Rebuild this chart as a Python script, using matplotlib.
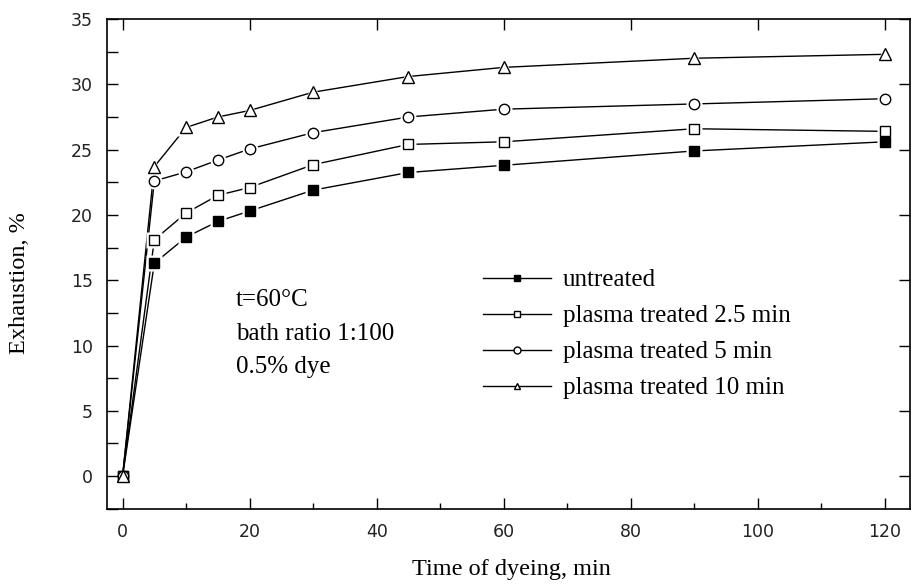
import numpy as np
import matplotlib.pyplot as plt
from matplotlib.lines import Line2D
from matplotlib.ticker import MultipleLocator

# time of dyeing, min
time = [0, 5, 10, 15, 20, 30, 45, 60, 90, 120]

# exhaustion, %
untreated = [0, 16.3, 18.3, 19.5, 20.3, 21.9, 23.25, 23.8, 24.9, 25.6]
treated_2_5 = [0, 18.1, 20.15, 21.5, 22.1, 23.85, 25.4, 25.6, 26.6, 26.4]
treated_5 = [0, 22.6, 23.3, 24.2, 25.05, 26.3, 27.5, 28.1, 28.5, 28.9]
treated_10 = [0, 23.7, 26.7, 27.5, 28.0, 29.4, 30.6, 31.3, 32.0, 32.3]

labels = ['untreated', 'plasma treated 2.5 min',
          'plasma treated 5 min', 'plasma treated 10 min']
series = [untreated, treated_2_5, treated_5, treated_10]
markers = ['s', 's', 'o', '^']
faces = ['black', 'white', 'white', 'white']
sizes = [7, 7, 7.5, 9]

serif = 'Liberation Serif'

fig = plt.figure(figsize=(9.12, 5.85), dpi=100)
ax = fig.add_axes([0.117, 0.1304, 0.881, 0.837])

for vals, m, fc, ms in zip(series, markers, faces, sizes):
    ax.plot(time, vals, color='black', lw=1.0, zorder=2)
    # white halo so the line stops short of each marker
    ax.plot(time[1:], vals[1:], ls='none', marker=m, ms=ms + 4, mfc='white',
            mec='none', zorder=3)
    ax.plot(time, vals, ls='none', marker=m, ms=ms, mfc=fc,
            mec='black', mew=1.0, zorder=4)

ax.set_xlim(-2.5, 124)
ax.set_ylim(-2.5, 35)

ax.xaxis.set_major_locator(MultipleLocator(20))
ax.xaxis.set_minor_locator(MultipleLocator(10))
ax.yaxis.set_major_locator(MultipleLocator(5))
ax.yaxis.set_minor_locator(MultipleLocator(2.5))
ax.tick_params(which='major', direction='in', length=8, width=1,
               top=True, right=True, labelsize=12.5, pad=10)
ax.tick_params(which='minor', direction='in', length=4, width=1,
               top=False, right=False)
ax.tick_params(axis='y', which='minor', length=8)
for lab in ax.get_xticklabels() + ax.get_yticklabels():
    lab.set_fontfamily('DejaVu Sans')
    lab.set_color('#222222')
for s in ax.spines.values():
    s.set_linewidth(1.2)

ax.set_xlabel('Time of dyeing, min', fontfamily=serif, fontsize=17.5, va='center')
ax.set_ylabel('Exhaustion, %', fontfamily=serif, fontsize=17.5, va='center')
ax.xaxis.set_label_coords(0.504, -0.125)
ax.yaxis.set_label_coords(-0.108, 0.46)

ax.text(0.161, 0.357, 't=60°C\nbath ratio 1:100\n0.5% dye',
        transform=ax.transAxes, fontfamily=serif, fontsize=18,
        va='center', ha='left', linespacing=1.68)

handles = [Line2D([], [], color='black', lw=1.0, marker=m, ms=5,
                  mfc=fc, mec='black') for m, fc in zip(markers, faces)]
ax.legend(handles, labels, loc='upper left', bbox_to_anchor=(0.4686, 0.49),
          frameon=False, prop={'family': serif, 'size': 18},
          handlelength=2.7, handletextpad=0.5, labelspacing=0.54,
          borderpad=0, borderaxespad=0)

fig.savefig('out.png', dpi=100)
